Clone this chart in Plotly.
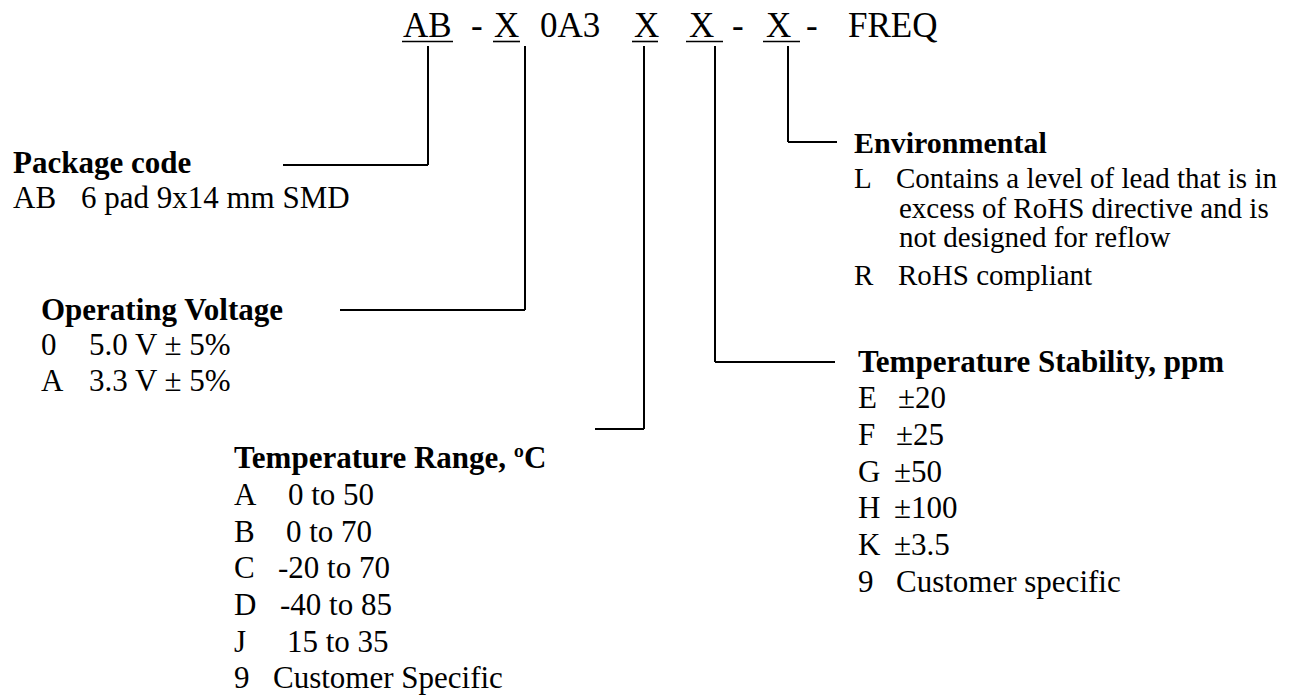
import plotly.graph_objects as go

# ---------------- data (texts of the part-number breakdown) ----------------
part_tokens = ["AB", "-", "X", "0A3", "X", "X", "-", "X", "-", "FREQ"]
part_underlined = [True, False, True, False, True, True, False, True, False, False]

package_title = "Package code"
package_codes = ["AB"]
package_desc = ["6 pad 9x14 mm SMD"]

voltage_title = "Operating Voltage"
voltage_codes = ["0", "A"]
voltage_desc = ["5.0 V ± 5%", "3.3 V ± 5%"]

range_title = "Temperature Range, ºC"
range_codes = ["A", "B", "C", "D", "J", "9"]
range_desc = ["0 to 50", "0 to 70", "-20 to 70", "-40 to 85", "15 to 35", "Customer Specific"]

stab_title = "Temperature Stability, ppm"
stab_codes = ["E", "F", "G", "H", "K", "9"]
stab_desc = ["±20", "±25", "±50", "±100", "±3.5", "Customer specific"]

env_title = "Environmental"
env_codes = ["L", "", "", "R"]
env_desc = ["Contains a level of lead that is in", "excess of RoHS directive and is",
            "not designed for reflow", "RoHS compliant"]

# ---------------- layout geometry (page pixel coordinates) ----------------
W, H = 1297, 698
FONT = "Liberation Serif, Times New Roman, serif"
FS = 31      # body text size
EFS = 29     # environmental block text size
TFS = 35     # part number size

def mid(baseline, fs):
    # centre of the text bounding box for a given baseline
    return baseline - 0.3375 * fs

annotations = []
shapes = []

def add_text(x, baseline, text, fs=FS, bold=False):
    annotations.append(dict(
        x=x, y=mid(baseline, fs), xref="x", yref="y", text=(f"<b>{text}</b>" if bold else text),
        showarrow=False, xanchor="left", yanchor="middle",
        font=dict(family=FONT, size=fs, color="black"), borderpad=0))

def add_line(x0, y0, x1, y1, w=2):
    shapes.append(dict(type="line", xref="x", yref="y", x0=x0, y0=y0, x1=x1, y1=y1,
                       line=dict(color="black", width=w)))

# part-number row
token_x = [402, 470, 493, 539, 633, 688, 731, 765, 805, 847]
underline_span = {0: (402, 453), 2: (493, 520), 4: (632, 658), 5: (686, 723), 7: (763, 800)}
TITLE_BASE = 37
for i, tok in enumerate(part_tokens):
    add_text(token_x[i], TITLE_BASE, tok, fs=TFS)
    if part_underlined[i]:
        a, b = underline_span[i]
        add_line(a, 41.5, b, 41.5, w=1.6)

# brackets: (tick x, bottom y, horizontal start x, horizontal end x)
TOP = 46
brackets = [
    (428, 165, 283, 428),   # package
    (525, 310, 340, 525),   # voltage
    (644, 429, 595, 644),   # temperature range
    (715, 362, 715, 835),   # stability
    (788, 142, 788, 837),   # environmental
]
for tx, by, hx0, hx1 in brackets:
    add_line(tx, TOP, tx, by)
    add_line(hx0, by, hx1, by)

def add_block(x_code, x_desc, title, base_title, codes, descs, baselines):
    add_text(x_code, base_title, title, bold=True)
    for c, d, b in zip(codes, descs, baselines):
        if c:
            add_text(x_code, b, c)
        add_text(x_desc, b, d)

add_block(12, 80, package_title, 173, package_codes, package_desc, [208])
add_block(40, 88, voltage_title, 320, voltage_codes, voltage_desc, [355, 391])

# temperature range: values start at slightly different x in the source
add_text(233, 468, range_title, bold=True)
range_desc_x = [287, 285, 277, 279, 286, 272]
for c, d, b, dx in zip(range_codes, range_desc, [505, 542, 578, 615, 652, 688], range_desc_x):
    add_text(233, b, c)
    add_text(dx, b, d)

add_text(857, 372, stab_title, bold=True)
stab_desc_x = [897, 895, 893, 893, 893, 895]
for c, d, b, dx in zip(stab_codes, stab_desc, [408, 445, 482, 518, 555, 592], stab_desc_x):
    add_text(857, b, c)
    add_text(dx, b, d)

add_text(853, 153, env_title, fs=EFS + 1, bold=True)
env_desc_x = [895, 898, 898, 897]
for c, d, b, dx in zip(env_codes, env_desc, [188, 218, 247, 285], env_desc_x):
    if c:
        add_text(853, b, c, fs=EFS)
    add_text(dx, b, d, fs=EFS)

fig = go.Figure()
fig.add_trace(go.Scatter(x=[0, W], y=[0, H], mode="markers", marker=dict(opacity=0),
                         hoverinfo="skip", showlegend=False))
fig.update_layout(
    width=W, height=H, margin=dict(l=0, r=0, t=0, b=0),
    paper_bgcolor="white", plot_bgcolor="white",
    xaxis=dict(range=[0, W], visible=False, fixedrange=True),
    yaxis=dict(range=[H, 0], visible=False, fixedrange=True),
    annotations=annotations, shapes=shapes, showlegend=False,
)
fig.write_html(
    "out.html",
    config={"displayModeBar": False},
    post_script="document.body.style.margin='0px';document.body.style.overflow='hidden';",
)
